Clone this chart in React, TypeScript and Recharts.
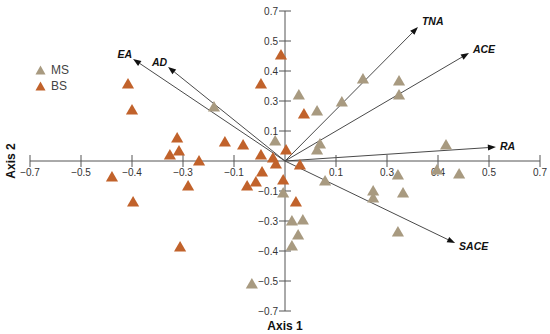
import { ScatterChart, Scatter, XAxis, YAxis, ZAxis, ReferenceLine } from 'recharts';

// samples (Axis 1, Axis 2)
const msPoints = [
  { x: -0.195, y: 0.247 },
  { x: -0.027, y: 0.089 },
  { x: -0.005, y: -0.154 },
  { x: 0.11, y: -0.098 },
  { x: 0.088, y: 0.047 },
  { x: 0.096, y: 0.075 },
  { x: 0.019, y: -0.285 },
  { x: 0.049, y: -0.28 },
  { x: 0.036, y: -0.35 },
  { x: 0.019, y: -0.401 },
  { x: -0.091, y: -0.579 },
  { x: 0.242, y: -0.145 },
  { x: 0.242, y: -0.177 },
  { x: 0.324, y: -0.154 },
  { x: 0.31, y: -0.07 },
  { x: 0.31, y: -0.336 },
  { x: 0.478, y: -0.065 },
  { x: 0.417, y: -0.047 },
  { x: 0.214, y: 0.378 },
  { x: 0.313, y: 0.369 },
  { x: 0.313, y: 0.303 },
  { x: 0.156, y: 0.271 },
  { x: 0.038, y: 0.303 },
  { x: 0.088, y: 0.229 },
  { x: 0.442, y: 0.07 },
];

const bsPoints = [
  { x: -0.431, y: 0.355 },
  { x: -0.42, y: 0.233 },
  { x: -0.296, y: 0.103 },
  { x: -0.291, y: 0.042 },
  { x: -0.316, y: 0.023 },
  { x: -0.236, y: -0.005 },
  { x: -0.165, y: 0.084 },
  { x: -0.115, y: 0.07 },
  { x: -0.066, y: 0.355 },
  { x: -0.011, y: 0.49 },
  { x: -0.066, y: 0.023 },
  { x: -0.033, y: 0.009 },
  { x: -0.025, y: -0.019 },
  { x: 0.003, y: 0.047 },
  { x: -0.475, y: -0.079 },
  { x: -0.417, y: -0.196 },
  { x: -0.266, y: -0.121 },
  { x: -0.288, y: -0.406 },
  { x: -0.063, y: -0.056 },
  { x: -0.08, y: -0.103 },
  { x: -0.104, y: -0.121 },
  { x: -0.005, y: -0.093 },
  { x: 0.041, y: -0.023 },
  { x: 0.03, y: -0.196 },
  { x: 0.052, y: 0.215 },
];

// variable loadings
const vectorNames = ['EA', 'AD', 'TNA', 'ACE', 'RA', 'SACE'];
const vectorX = [-0.417, -0.321, 0.365, 0.505, 0.579, 0.467];
const vectorY = [0.476, 0.439, 0.625, 0.504, 0.065, -0.383];

// axis ticks (labels are printed rounded, as in the source figure)
const tickValues = [-0.7, -0.56, -0.42, -0.28, -0.14, 0.14, 0.28, 0.42, 0.56, 0.7];
const xTickLabels = ['−0.7', '−0.5', '−0.4', '−0.3', '−0.1', '0.1', '0.3', '0.4', '0.5', '0.7'];
const yTickLabels = ['−0.7', '−0.5', '−0.4', '−0.3', '−0.1', '0.1', '0.3', '0.4', '0.5', '0.7'];

const MS_COLOUR = '#a89a80';
const BS_COLOUR = '#c1622b';
const FONT = '"Liberation Sans", Arial, sans-serif';

const xTickData = tickValues.map((v, i) => ({ x: v, y: 0, label: xTickLabels[i] }));
const yTickData = tickValues.map((v, i) => ({ x: 0, y: v, label: yTickLabels[i] }));

const XTick = (props: any) => {
  const { cx, cy, payload } = props;
  return (
    <g>
      <line x1={cx} x2={cx} y1={cy - 6} y2={cy + 6} stroke="#555" strokeWidth={1} />
      <text x={cx} y={cy + 15} textAnchor="middle" fontSize={10} fontFamily={FONT} fill="#333">
        {payload.label}
      </text>
    </g>
  );
};

const YTick = (props: any) => {
  const { cx, cy, payload } = props;
  return (
    <g>
      <line x1={cx - 6} x2={cx + 6} y1={cy} y2={cy} stroke="#555" strokeWidth={1} />
      <text x={cx - 7} y={cy} dy="0.35em" textAnchor="end" fontSize={10} fontFamily={FONT} fill="#333">
        {payload.label}
      </text>
    </g>
  );
};

const arrowShape = (name: string) => (props: any) => {
  const { x1, y1, x2, y2 } = props;
  const len = Math.hypot(x2 - x1, y2 - y1);
  const ux = (x2 - x1) / len;
  const uy = (y2 - y1) / len;
  const bx = x2 - ux * 8;
  const by = y2 - uy * 8;
  const nx = -uy * 3;
  const ny = ux * 3;
  const left = ux < 0;
  return (
    <g>
      <line x1={x1} y1={y1} x2={bx} y2={by} stroke="#4a4a4a" strokeWidth={1} />
      <polygon points={`${x2},${y2} ${bx + nx},${by + ny} ${bx - nx},${by - ny}`} fill="#111" />
      <text
        x={x2 + (left ? -1 : 4)}
        y={y2 + uy * 8}
        dy="0.35em"
        textAnchor={left ? 'end' : 'start'}
        fontSize={10.5}
        fontWeight="bold"
        fontStyle="italic"
        fontFamily={FONT}
        fill="#111"
      >
        {name}
      </text>
    </g>
  );
};

const LegendTriangle = ({ colour }: { colour: string }) => (
  <svg width={11} height={10} style={{ marginRight: 5 }}>
    <polygon points="5.5,0.5 10.5,9.5 0.5,9.5" fill={colour} />
  </svg>
);

export default function App() {
  return (
    <div style={{ position: 'absolute', left: 0, top: 0, width: 550, height: 334, background: '#fff' }}>
      <ScatterChart width={550} height={334} margin={{ top: 11, right: 10, bottom: 0, left: 0 }}>
        <XAxis
          type="number"
          dataKey="x"
          domain={[-0.7, 0.7]}
          height={23}
          tick={false}
          axisLine={false}
          tickLine={false}
          label={{
            value: 'Axis 1',
            position: 'insideBottom',
            offset: 4,
            style: { fontFamily: FONT, fontSize: 12, fontWeight: 'bold', fill: '#111' },
          }}
        />
        <YAxis
          type="number"
          dataKey="y"
          domain={[-0.7, 0.7]}
          width={30}
          tick={false}
          axisLine={false}
          tickLine={false}
          label={{
            value: 'Axis 2',
            angle: -90,
            position: 'insideLeft',
            offset: 11,
            style: { textAnchor: 'middle', fontFamily: FONT, fontSize: 12, fontWeight: 'bold', fill: '#111' },
          }}
        />
        <ZAxis range={[45, 45]} />
        <ReferenceLine y={0} stroke="#555" strokeWidth={1} />
        <ReferenceLine x={0} stroke="#555" strokeWidth={1} />
        <Scatter data={xTickData} shape={XTick} legendType="none" isAnimationActive={false} />
        <Scatter data={yTickData} shape={YTick} legendType="none" isAnimationActive={false} />
        <Scatter name="MS" data={msPoints} fill={MS_COLOUR} shape="triangle" isAnimationActive={false} />
        <Scatter name="BS" data={bsPoints} fill={BS_COLOUR} shape="triangle" isAnimationActive={false} />
        {vectorNames.map((name, i) => (
          <ReferenceLine
            key={name}
            segment={[
              { x: 0, y: 0 },
              { x: vectorX[i], y: vectorY[i] },
            ]}
            shape={arrowShape(name)}
          />
        ))}
      </ScatterChart>
      <div
        style={{
          position: 'absolute',
          left: 35,
          top: 62,
          fontFamily: FONT,
          fontSize: 12,
          color: '#444',
          lineHeight: '16px',
        }}
      >
        <div style={{ display: 'flex', alignItems: 'center' }}>
          <LegendTriangle colour={MS_COLOUR} />
          MS
        </div>
        <div style={{ display: 'flex', alignItems: 'center' }}>
          <LegendTriangle colour={BS_COLOUR} />
          BS
        </div>
      </div>
    </div>
  );
}
